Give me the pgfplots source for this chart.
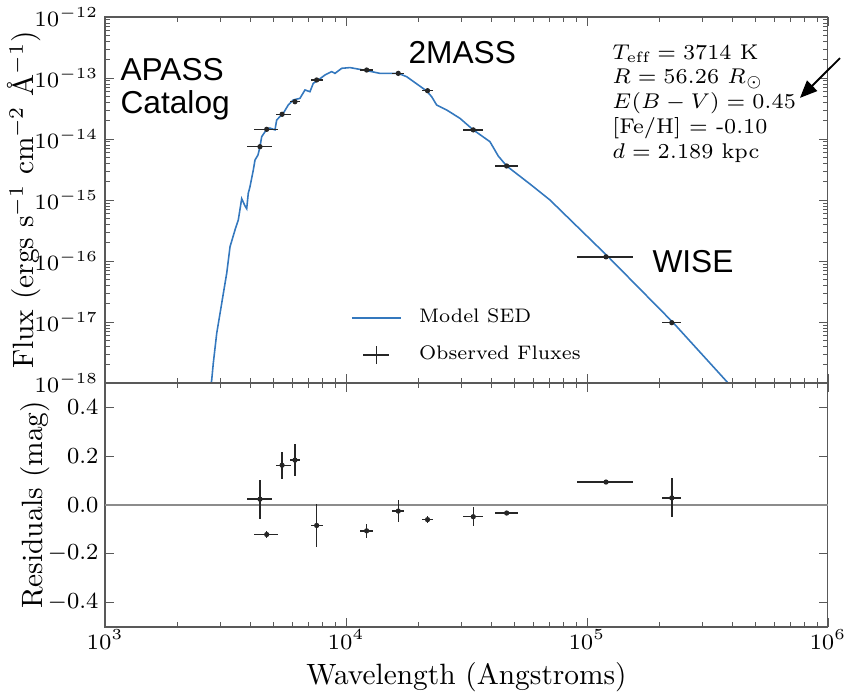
\RequirePackage{fix-cm}
\documentclass[border=0pt]{standalone}
\usepackage{fontspec}
\usepackage{pgfplots}
\pgfplotsset{compat=1.18}
\usepackage{pgfplotstable}
\usetikzlibrary{arrows.meta}
\newfontfamily\arialf{Liberation Sans}
\definecolor{sedblue}{RGB}{52,120,190}

\pgfplotstableread{
x y
2727 7.7e-19
2772 1.12e-18
2814 2.10e-18
2908 6.53e-18
3199 6.28e-17
3302 1.71e-16
3463 3.22e-16
3574 4.70e-16
3692 1.05e-15
3810 8.0e-16
3873 7.2e-16
3932 1.29e-15
3997 1.65e-15
4125 3.10e-15
4193 4.53e-15
4314 5.47e-15
4397 7.48e-15
4469 1.09e-14
4688 1.44e-14
4836 1.51e-14
5075 1.41e-14
5157 2.05e-14
5494 2.64e-14
5762 3.61e-14
6043 4.36e-14
6444 4.64e-14
6758 6.36e-14
7090 5.96e-14
7316 8.18e-14
7676 9.27e-14
8183 1.12e-13
8724 1.27e-13
9003 1.19e-13
9598 1.44e-13
10390 1.48e-13
12185 1.32e-13
13839 1.19e-13
16482 1.19e-13
17862 1.05e-13
21621 6.12e-14
22680 4.93e-14
23785 3.61e-14
26170 2.99e-14
29717 2.18e-14
33750 1.41e-14
39576 9.04e-15
42855 5.26e-15
46430 3.61e-15
58006 1.83e-15
70237 1.00e-15
122575 1.17e-16
228035 9.75e-18
392120 9.27e-19
}\modeltab

\pgfplotstableread{
x y xm xp
4397 7.48e-15 524 515
4688 1.44e-14 535 534
5430 2.54e-14 300 500
6143 4.08e-14 300 300
7557 9.27e-14 400 450
12185 1.35e-13 800 800
16482 1.19e-13 1000 1000
21800 6.19e-14 1100 1100
33750 1.41e-14 3070 3380
46430 3.61e-15 4910 5440
120000 1.17e-16 29400 35650
225000 9.75e-18 20000 20000
}\obstab

\pgfplotstableread{
x y ey xm xp
4397 0.024 0.080 524 515
4688 -0.121 0.015 535 534
5430 0.163 0.055 300 500
6143 0.184 0.065 300 300
7557 -0.084 0.087 400 450
12185 -0.106 0.030 800 800
16482 -0.025 0.045 1000 1000
21800 -0.060 0.015 1100 1100
33750 -0.048 0.040 3070 3380
46430 -0.033 0.010 4910 5440
120000 0.094 0.010 29400 35650
225000 0.029 0.080 20000 20000
}\restab

\begin{document}
\begin{tikzpicture}[font=\fontsize{10}{12}\selectfont]
\pgfplotsset{
  every axis/.append style={
    scale only axis,
    width=251pt,
    xmode=log, xmin=1e3, xmax=1e6,
    axis line style={black!65},
    tick style={black!65},
    major tick length=3.2pt,
    minor tick length=1.6pt,
    tick label style={font=\fontsize{7.6}{9}\selectfont},
    yticklabel style={xshift=1.2pt},
    label style={font=\fontsize{10.2}{12}\selectfont},
  }
}
\begin{axis}[
  name=top, at={(0pt,0pt)}, anchor=south west,
  height=127.1pt,
  ymode=log, ymin=1e-18, ymax=1e-12,
  ytick={1e-18,1e-17,1e-16,1e-15,1e-14,1e-13,1e-12},
  xticklabels={},
  ylabel={Flux (ergs s$^{-1}$ cm$^{-2}$ \AA$^{-1}$)},
  ylabel style={at={(axis description cs:-0.112,0.5)}, anchor=center},
  legend style={at={(0.3275,0.236)}, anchor=north west, draw=none, fill=none,
    text=black, font=\fontsize{6.8}{8.2}\selectfont, row sep=2.6pt, column sep=4pt},
  legend cell align={left},
]
\addplot[sedblue, line width=0.55pt] table[x=x,y=y] {\modeltab};
\addlegendentry{Model SED}
\addplot[black!85, only marks, mark=*, mark size=0.7pt,
  legend image code/.code={
    \draw[black!85, line width=0.5pt] (0.14cm,0pt) -- (0.46cm,0pt);
    \draw[black!85, line width=0.5pt] (0.3cm,-3.2pt) -- (0.3cm,3.2pt);
  },
  error bars/.cd, x dir=both, x explicit, error mark=none,
  error bar style={line width=0.5pt, black!85}]
  table[x=x, y=y, x error minus=xm, x error plus=xp] {\obstab};
\addlegendentry{Observed Fluxes}
\end{axis}

\begin{axis}[
  name=bot, at={(0pt,0pt)}, anchor=north west,
  height=84.7pt,
  ymin=-0.5, ymax=0.5,
  ytick={-0.4,-0.2,0,0.2,0.4},
  yticklabel style={font=\fontsize{8}{9.5}\selectfont, /pgf/number format/.cd, fixed, fixed zerofill, precision=1},
  xtick={1e3,1e4,1e5,1e6},
  xticklabel style={yshift=2.5pt},
  xlabel={Wavelength (Angstroms)},
  ylabel={Residuals (mag)},
  xlabel style={at={(axis description cs:0.5,-0.205)}, anchor=center},
  ylabel style={at={(axis description cs:-0.096,0.5)}, anchor=center},
]
\addplot[black!45, line width=0.5pt] coordinates {(1e3,0) (1e6,0)};
\addplot[black!85, only marks, mark=*, mark size=0.7pt,
  error bars/.cd, x dir=both, x explicit, y dir=both, y explicit, error mark=none,
  error bar style={line width=0.5pt, black!85}]
  table[x=x, y=y, x error minus=xm, x error plus=xp, y error=ey] {\restab};
\end{axis}

% annotations
\node[anchor=base west, inner sep=0pt, font=\arialf\fontsize{11}{13}\selectfont] at (5.2pt,105.2pt) {APASS};
\node[anchor=base west, inner sep=0pt, font=\arialf\fontsize{11}{13}\selectfont] at (5.2pt,93.75pt) {Catalog};
\node[anchor=base west, inner sep=0pt, font=\arialf\fontsize{11}{13}\selectfont] at (105.2pt,111.1pt) {2MASS};
\node[anchor=base west, inner sep=0pt, font=\arialf\fontsize{11}{13}\selectfont] at (189.9pt,38.2pt) {WISE};

\begin{scope}[every node/.style={anchor=base west, inner sep=0pt, font=\fontsize{7.4}{9}\selectfont}]
\node at (176pt,112.5pt) {$T_{\mathrm{eff}} = 3714$ K};
\node at (176pt,103.9pt) {$R = 56.26\ R_{\odot}$};
\node at (176pt,95.3pt) {$E(B-V) = 0.45$};
\node at (176pt,86.7pt) {[Fe/H] $=$ -0.10};
\node at (176pt,78.1pt) {$d = 2.189$ kpc};
\end{scope}

\draw[-{Triangle[length=6pt,width=5pt]}, line width=0.65pt] (255.2pt,112.8pt) -- (241.3pt,99pt);

\pgfresetboundingbox
\path[use as bounding box] (-36.46pt,-107.64pt) rectangle (257.29pt,132.99pt);
\end{tikzpicture}
\end{document}
